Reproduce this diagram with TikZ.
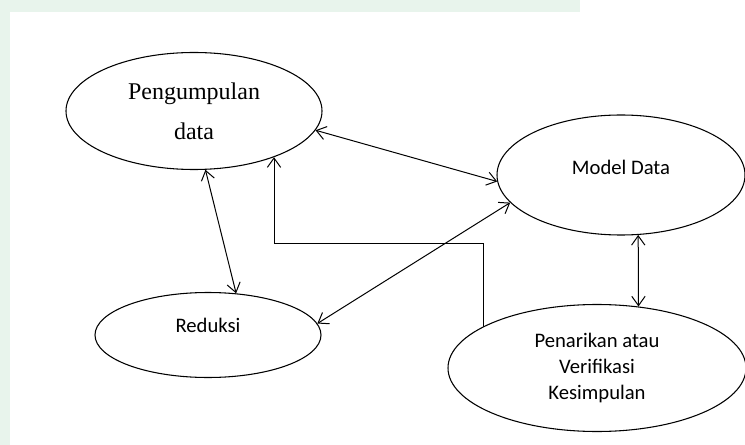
\documentclass[tikz,border=0pt]{standalone}
\usepackage{fontspec}
\setmainfont{Liberation Serif}
\newfontfamily\calibri{Carlito}
\usepackage{xcolor}
\usetikzlibrary{arrows.meta, shapes.geometric}
\definecolor{wmark}{RGB}{232,244,236}

\begin{document}
\begin{tikzpicture}[
  x=0.75pt, y=-0.75pt,
  bubble/.style = {draw, ellipse, line width=0.8pt, inner sep=0pt},
  serif/.style  = {font=\fontsize{18}{30}\selectfont, align=center},
  calib/.style  = {font=\calibri\fontsize{15.5}{19.5}\selectfont, align=center},
  arr/.style    = {-{Straight Barb[length=7pt, width=10pt]}, line width=0.75pt},
  darr/.style   = {{Straight Barb[length=7pt, width=10pt]}-{Straight Barb[length=7pt, width=10pt]}, line width=0.75pt},
]

\useasboundingbox (0,0) rectangle (745,445);

%% page margin
\fill[wmark] (0,0) rectangle (10,445);
\fill[wmark] (0,0) rectangle (580,12);

%% Nodes
\node[bubble, serif, minimum width=192pt, minimum height=87.75pt] (kumpul) at (194,111) {Pengumpulan\\data};
\node[bubble, minimum width=186pt, minimum height=90pt,
      label={[calib, yshift=6pt]center:Model Data}] (model) at (621,175) {};
\node[bubble, minimum width=169.5pt, minimum height=63.75pt,
      label={[calib, yshift=7.5pt]center:Reduksi}] (reduksi) at (208,335) {};
\node[bubble, calib, minimum width=223.5pt, minimum height=95.25pt] (simpul) at (597,368)
      {Penarikan atau\\Verifikasi\\Kesimpulan};

%% two-way links
\draw[darr] (kumpul.-9.5) -- (model.183);
\draw[darr] (kumpul.-79) -- (reduksi.56);
\draw[darr] (reduksi.6.4) -- (model.194);
\draw[darr] (model.-74) -- (simpul.56);

%% Kesimpulan back to Pengumpulan data
\coordinate (turn) at (0,243.5);
\draw[arr] (simpul.160) |- (kumpul.-30 |- turn) -- (kumpul.-30);

\end{tikzpicture}
\end{document}
